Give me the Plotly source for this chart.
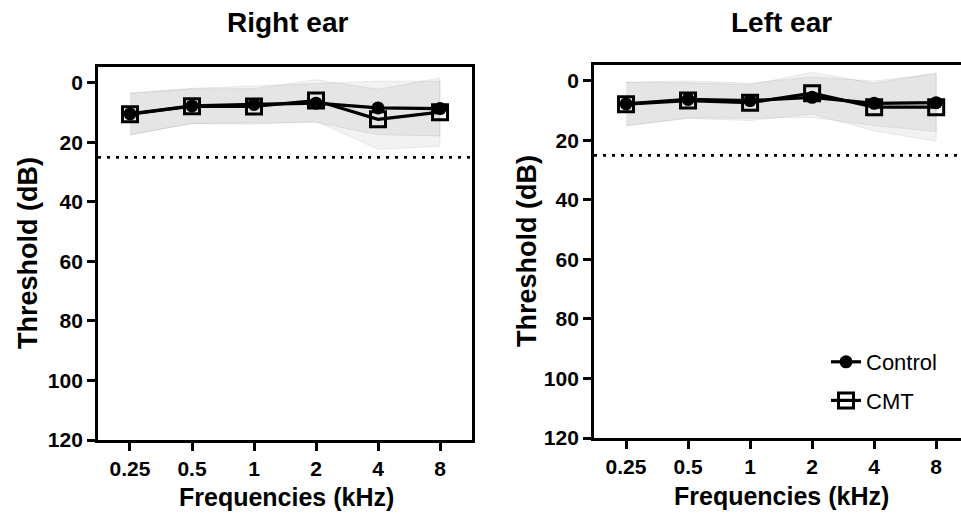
import plotly.graph_objects as go

# ---- data ----
freqs = ["0.25", "0.5", "1", "2", "4", "8"]

right_control_mean = [10.4, 7.7, 7.2, 6.8, 8.4, 8.6]
right_control_sd = [7.0, 5.9, 6.2, 6.5, 9.0, 9.2]
right_cmt_mean = [10.5, 7.8, 7.9, 5.9, 12.2, 9.8]
right_cmt_sd = [7.0, 5.8, 6.0, 7.0, 10.1, 11.5]

left_control_mean = [7.7, 6.2, 6.6, 5.5, 7.5, 7.3]
left_control_sd = [7.3, 6.2, 5.9, 6.8, 7.5, 9.7]
left_cmt_mean = [7.8, 6.6, 7.3, 4.1, 8.8, 8.8]
left_cmt_sd = [7.3, 6.0, 6.0, 7.0, 8.0, 11.5]

normal_limit = 25
y_ticks = [0, 20, 40, 60, 80, 100, 120]

panel_titles = ["Right ear", "Left ear"]
x_title = "Frequencies (kHz)"
y_title = "Threshold (dB)"
series_names = ["Control", "CMT"]

FONT = "Liberation Sans, Arial, Helvetica, sans-serif"
W, H = 961, 513

fig = go.Figure()


def band(mean, sd, xa, ya):
    upper = [m - s for m, s in zip(mean, sd)]
    lower = [m + s for m, s in zip(mean, sd)]
    fig.add_trace(go.Scatter(
        x=freqs + freqs[::-1], y=upper + lower[::-1],
        xaxis=xa, yaxis=ya, mode="lines", fill="toself",
        fillcolor="rgba(0,0,0,0.05)",
        line=dict(color="rgba(0,0,0,0.07)", width=1),
        hoverinfo="skip", showlegend=False))


def series(cm, cmt, xa, ya, show):
    fig.add_trace(go.Scatter(
        x=freqs, y=cmt, xaxis=xa, yaxis=ya, mode="lines+markers",
        name=series_names[1], legendgroup="b", legendrank=2, showlegend=show,
        line=dict(color="black", width=3.2),
        marker=dict(symbol="square-open", size=15, color="black",
                    line=dict(width=3, color="black"))))
    fig.add_trace(go.Scatter(
        x=freqs, y=cm, xaxis=xa, yaxis=ya, mode="lines+markers",
        name=series_names[0], legendgroup="a", legendrank=1, showlegend=show,
        line=dict(color="black", width=3.2),
        marker=dict(symbol="circle", size=13, color="black")))


band(right_cmt_mean, right_cmt_sd, "x", "y")
band(right_control_mean, right_control_sd, "x", "y")
band(left_cmt_mean, left_cmt_sd, "x2", "y2")
band(left_control_mean, left_control_sd, "x2", "y2")

series(right_control_mean, right_cmt_mean, "x", "y", False)
series(left_control_mean, left_cmt_mean, "x2", "y2", True)

# dotted normal-hearing limit
shapes = []
for xa, ya in (("x", "y"), ("x2", "y2")):
    shapes.append(dict(type="line", xref=f"{xa} domain", yref=ya,
                       x0=0, x1=1, y0=normal_limit, y1=normal_limit,
                       line=dict(color="black", width=2.6, dash="3px,6px"),
                       layer="below"))

tickfont = dict(family=FONT, size=21, color="black", weight="bold")
common_x = dict(type="category", categoryorder="array", categoryarray=freqs,
                showgrid=False, zeroline=False, showline=True, linecolor="black",
                linewidth=2.8, ticks="outside", ticklen=8, tickwidth=2.5,
                tickcolor="black", tickfont=tickfont, mirror=True, automargin=False)
common_y = dict(range=[120, -5.37], tickvals=y_ticks, showgrid=False, zeroline=False,
                showline=True, linecolor="black", linewidth=2.8, ticks="outside",
                ticklen=8, tickwidth=2.5, tickcolor="black", tickfont=tickfont,
                automargin=False)

fig.update_layout(
    width=W, height=H,
    margin=dict(l=0, r=0, t=0, b=0, pad=0, autoexpand=False),
    paper_bgcolor="white", plot_bgcolor="white",
    xaxis=dict(domain=[98 / W, 472 / W], range=[-0.516, 5.516], anchor="y", **common_x),
    yaxis=dict(domain=[1 - 440 / H, 1 - 67 / H], anchor="x", mirror=True, **common_y),
    xaxis2=dict(domain=[594 / W, 1.0], range=[-0.516, 5.40], anchor="y2", **common_x),
    yaxis2=dict(domain=[1 - 438 / H, 1 - 65 / H], anchor="x2", mirror=False, **common_y),
    legend=dict(x=826 / W, y=1 - 341 / H, xanchor="left", yanchor="top",
                bgcolor="rgba(0,0,0,0)", tracegroupgap=7,
                font=dict(family=FONT, size=22, color="black"),
                traceorder="grouped"),
    showlegend=True,
    shapes=shapes,
)

annotations = [
    dict(text=panel_titles[0], x=287 / W, y=1 - 23 / H),
    dict(text=panel_titles[1], x=781 / W, y=1 - 22 / H),
]
for a in annotations:
    a.update(xref="paper", yref="paper", showarrow=False, xanchor="center",
             yanchor="middle", font=dict(family=FONT, size=28, color="black", weight="bold"))
axis_anns = [
    dict(text=x_title, x=286 / W, y=1 - 497 / H),
    dict(text=x_title, x=781 / W, y=1 - 496 / H),
]
for a in axis_anns:
    a.update(xref="paper", yref="paper", showarrow=False, xanchor="center",
             yanchor="middle", font=dict(family=FONT, size=25, color="black", weight="bold"))
y_anns = [
    dict(text=y_title, x=28 / W, y=1 - 253 / H),
    dict(text=y_title, x=527 / W, y=1 - 251 / H),
]
for a in y_anns:
    a.update(xref="paper", yref="paper", showarrow=False, xanchor="center",
             yanchor="middle", textangle=-90,
             font=dict(family=FONT, size=27, color="black", weight="bold"))

fig.update_layout(annotations=annotations + axis_anns + y_anns)

fig.write_html(
    "out.html",
    config={"displayModeBar": False},
    post_script="document.body.style.margin='0';document.body.style.overflow='hidden';",
)
